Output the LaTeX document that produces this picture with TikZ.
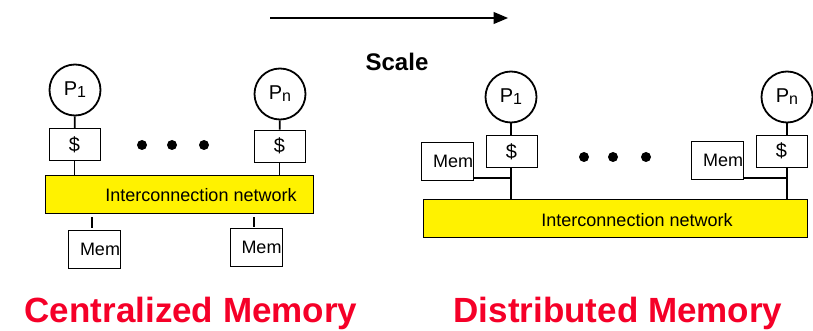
\documentclass[tikz,border=0pt]{standalone}
\usepackage{fontspec}
\setmainfont{Liberation Sans}
\usetikzlibrary{arrows,positioning,calc}
\definecolor{memred}{RGB}{245,0,40}
\newcommand{\procname}[1]{P\raisebox{-2pt}{\fontsize{16}{16}\selectfont #1}}
\tikzset{
  proc/.style={circle,draw,line width=1.8pt,minimum size=51pt,inner sep=0pt,font=\fontsize{20}{20}\selectfont},
  cache/.style={rectangle,draw,line width=0.7pt,minimum width=51pt,minimum height=32pt,inner sep=0pt,font=\fontsize{20}{20}\selectfont},
  mem/.style={rectangle,draw,line width=0.7pt,minimum width=52pt,minimum height=38pt,inner sep=0pt,text width=51pt,align=right,font=\fontsize{18}{18}\selectfont},
  net/.style={rectangle,draw,fill=yellow,line width=0.7pt,inner sep=0pt},
  link/.style={line width=1.8pt},
  dot/.style={circle,fill,inner sep=0pt,minimum size=10pt},
  title/.style={font=\bfseries\fontsize{35}{35}\selectfont,text=memred}
}
\begin{document}
\begin{tikzpicture}[x=1pt,y=-1pt]
\useasboundingbox (0,0) rectangle (813,331);

% Scale arrow
\coordinate (sa) at (270,18);
\coordinate (sb) at (508,18);
\draw[line width=2.4pt,-triangle 45] (sa) -- (sb);
\node[font=\bfseries\fontsize{24}{24}\selectfont] (scale) at (397,62) {Scale};

% Centralized memory
\node[proc] (cp1) at (75,90) {\procname{1}};
\node[proc] (cpn) at (280,94) {\procname{n}};
\node[cache] (cc1) at (74.5,144.5) {\$};
\node[cache] (ccn) at (279.5,146) {\$};
\node[net,minimum width=268pt,minimum height=38pt] (cnet) at (179,194) {};
\node[font=\fontsize{18}{18}\selectfont] (cnettxt) at (201,195) {Interconnection network};
\node[mem] (cm1) at (94.5,249) {\raisebox{-3pt}{Mem}};
\node[mem] (cm2) at (256,247) {\raisebox{-3pt}{Mem}};
\coordinate (cm1top) at (92,217);
\coordinate (cm2top) at (254,217);
\draw[link] (cp1) -- (cc1);
\draw[link] (cpn) -- (ccn);
\draw[link] (cc1.south) -- (cc1.south |- cnet.north);
\draw[link] (ccn.south) -- (ccn.south |- cnet.north);
\draw[link] (cm1top) -- ++(0,11);
\draw[link] (cm2top) -- ++(0,10);
\node[dot] (cd1) at (142,145) {};
\node[dot] (cd2) at (172,145) {};
\node[dot] (cd3) at (204,145) {};

% Distributed memory
\node[proc] (dp1) at (511,97) {\procname{1}};
\node[proc] (dpn) at (787,97) {\procname{n}};
\node[cache] (dc1) at (511.5,151.5) {\$};
\node[cache] (dcn) at (781.5,151) {\$};
\node[mem] (dm1) at (447.5,161) {\raisebox{-5pt}{Mem}};
\node[mem] (dm2) at (717.5,160.5) {\raisebox{-5pt}{Mem}};
\node[net,minimum width=384pt,minimum height=38pt] (dnet) at (615,218) {};
\node[font=\fontsize{18}{18}\selectfont] (dnettxt) at (637,220) {Interconnection network};
\draw[link] (dp1) -- (dp1 |- dc1.north);
\draw[link] (dpn) -- (dpn |- dcn.north);
\draw[link] (dp1 |- dc1.south) -- (dp1 |- dnet.north);
\draw[link] (dpn |- dcn.south) -- (dpn |- dnet.north);
\draw[link] (dm1.east |- 0,178) -- (dp1 |- 0,178);
\draw[link] (dm2.east |- 0,178) -- (dpn |- 0,178);
\node[dot] (dd1) at (584,157) {};
\node[dot] (dd2) at (613,157) {};
\node[dot] (dd3) at (646,157) {};

% Titles
\node[title] (ctitle) at (191,313) {Centralized Memory};
\node[title] (dtitle) at (618,313) {Distributed Memory};
\end{tikzpicture}
\end{document}
